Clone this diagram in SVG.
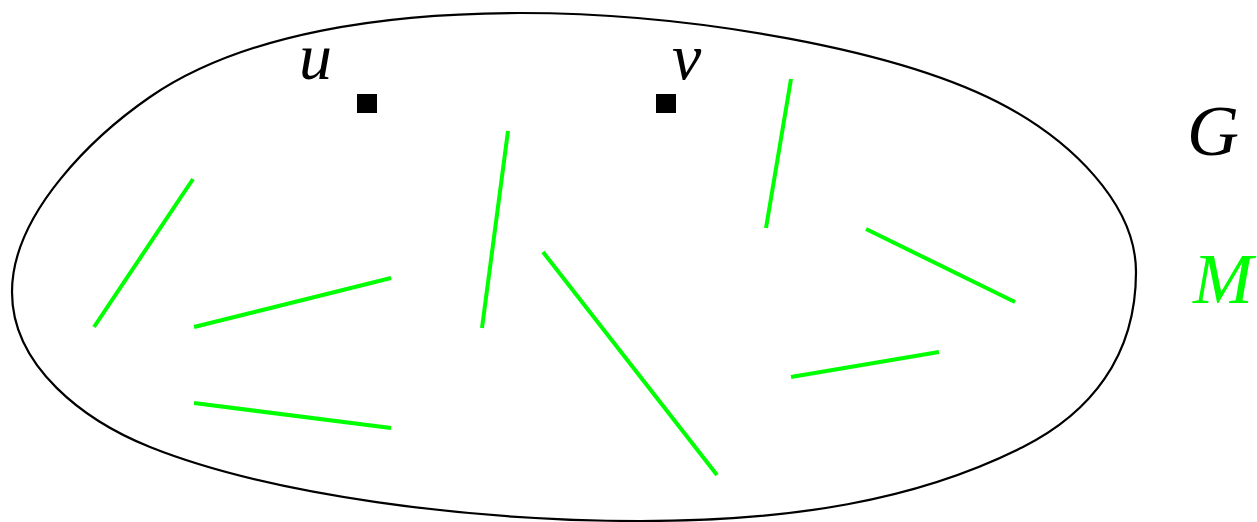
<svg xmlns="http://www.w3.org/2000/svg" width="1257" height="522" viewBox="0 0 1257 522">
<style>
.m{stroke:#00ff00;stroke-width:4;fill:none}
.lbl{font-family:"Liberation Serif","DejaVu Serif",serif;font-style:italic;font-size:66px}
.big{font-size:72px}
</style>
<rect width="1257" height="522" fill="#fff"/>
<g id="graph">
<path d="M12,292 C12,212 96.5,133.9 150,97 C244.6,31.8 390,13 520,13 C690,13 901.8,49.3 1007,107 C1068.4,140.7 1136,202 1136,272 C1136,357 1090,413.25 1023,447 C915.8,501 790,521 640,521 C470,521 270.6,495.2 150,447 C85,421 12,367 12,292 Z" fill="none" stroke="#000" stroke-width="2.2"/>
</g>
<g id="node-u"><rect x="357" y="94" width="20" height="19" fill="#000"/><text class="lbl" x="299" y="79">u</text></g>
<g id="node-v"><rect x="656" y="94" width="20" height="19" fill="#000"/><text class="lbl" x="672" y="79">v</text></g>
<g id="label-G"><text class="lbl big" x="1187" y="155">G</text></g>
<g id="label-M"><text class="lbl big" x="1193" y="303" fill="#00ff00">M</text></g>
<g id="connectors">
<line class="m" x1="94" y1="327" x2="193" y2="179"/>
<line class="m" x1="194" y1="327" x2="391" y2="278"/>
<line class="m" x1="194" y1="403" x2="391" y2="428"/>
<line class="m" x1="482" y1="328" x2="508" y2="131"/>
<line class="m" x1="543" y1="252" x2="717" y2="475"/>
<line class="m" x1="766" y1="228" x2="791" y2="79"/>
<line class="m" x1="866" y1="229" x2="1015" y2="302"/>
<line class="m" x1="791" y1="377" x2="939" y2="352"/>
</g>
</svg>
